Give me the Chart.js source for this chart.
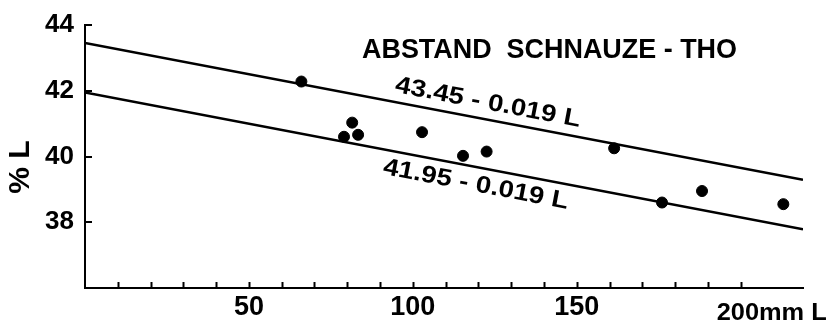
<!DOCTYPE html>
<html>
<head>
<meta charset="utf-8">
<script src="https://cdn.jsdelivr.net/npm/chart.js@4.4.1/dist/chart.umd.min.js"></script>
<style>
  html, body { margin: 0; padding: 0; background: #fff; }
  #wrap { width: 833px; height: 324px; }
</style>
</head>
<body>
<div id="wrap"><canvas id="chart" width="833" height="324"></canvas></div>
<script>
// measured points: body length L (mm) and distance snout-THO (% L)
const lengthMM = [66, 81.5, 79, 83.3, 102.8, 115.3, 122.5, 161.4, 176, 188.2, 213];
const percentL = [42.28, 41.03, 40.6, 40.66, 40.74, 40.02, 40.15, 40.25, 38.6, 38.95, 38.55];

// the two regression lines, given by their end points
const lineL = [0, 219];
const upperLine = [43.45, 39.29];
const lowerLine = [41.95, 37.79];

const yLabels = [38, 40, 42, 44];
const xLabels = [50, 100, 150];

const titleText = 'ABSTAND  SCHNAUZE - THO';
const upperText = '43.45 - 0.019 L';
const lowerText = '41.95 - 0.019 L';
const lastXLabel = '200mm L';

const FONT = '"Liberation Sans", Arial, sans-serif';

const toPoints = (xs, ys) => xs.map((x, i) => ({ x: x, y: ys[i] }));

// text squeezed / stretched to a given width
const fitText = (ctx, text, w) => {
  const s = w / ctx.measureText(text).width;
  ctx.scale(s, 1);
  ctx.fillText(text, 0, 0);
};

// draws the small inner ticks, the title and the two line labels
const annotations = {
  id: 'annotations',
  afterDraw(chart) {
    const { ctx, scales: { x, y } } = chart;
    ctx.save();
    ctx.strokeStyle = '#000';
    ctx.lineWidth = 2;

    // inner tick marks
    x.ticks.forEach(t => {
      if (t.value <= 0 || t.value % 10 !== 0) return;
      const px = Math.round(x.getPixelForValue(t.value)) + 0.5;
      ctx.beginPath();
      ctx.moveTo(px, y.bottom);
      ctx.lineTo(px, y.bottom - 6);
      ctx.stroke();
    });
    y.ticks.forEach(t => {
      if (t.value <= y.min) return;
      const py = Math.round(y.getPixelForValue(t.value));
      ctx.beginPath();
      ctx.moveTo(x.left, py);
      ctx.lineTo(x.left + 7, py);
      ctx.stroke();
    });

    ctx.fillStyle = '#000';

    // last x label with the unit
    ctx.font = 'bold 23px ' + FONT;
    ctx.textAlign = 'left';
    ctx.textBaseline = 'alphabetic';
    ctx.save();
    ctx.translate(x.getPixelForValue(200) - 24, 320);
    fitText(ctx, lastXLabel, 110);
    ctx.restore();

    // y axis title
    ctx.save();
    ctx.translate(21, 167);
    ctx.rotate(-Math.PI / 2);
    ctx.font = 'bold 30px ' + FONT;
    ctx.textAlign = 'center';
    ctx.textBaseline = 'middle';
    ctx.fillText('% L', 0, 0);
    ctx.restore();

    // title, squeezed to the width of the original lettering
    ctx.save();
    ctx.font = 'bold 28px ' + FONT;
    ctx.textAlign = 'left';
    ctx.translate(362, 58);
    fitText(ctx, titleText, 375);
    ctx.restore();

    // labels along the lines
    const angle = Math.atan2(
      y.getPixelForValue(upperLine[1]) - y.getPixelForValue(upperLine[0]),
      x.getPixelForValue(lineL[1]) - x.getPixelForValue(lineL[0]));
    const label = (text, lx, ly) => {
      ctx.save();
      ctx.translate(x.getPixelForValue(lx), y.getPixelForValue(ly));
      ctx.rotate(angle);
      ctx.font = 'bold 24px ' + FONT;
      ctx.textAlign = 'center';
      ctx.textBaseline = 'middle';
      fitText(ctx, text, 188);
      ctx.restore();
    };
    label(upperText, 122.9, 41.63);
    label(lowerText, 119.2, 39.14);

    ctx.restore();
  }
};

const config = {
  type: 'scatter',
  data: {
    datasets: [
      {
        data: toPoints(lengthMM, percentL),
        backgroundColor: '#000',
        borderColor: '#000',
        pointRadius: 5.5,
        pointHoverRadius: 5.5,
      },
      {
        data: toPoints(lineL, upperLine),
        showLine: true,
        borderColor: '#000',
        borderWidth: 2.5,
        pointRadius: 0,
      },
      {
        data: toPoints(lineL, lowerLine),
        showLine: true,
        borderColor: '#000',
        borderWidth: 2.5,
        pointRadius: 0,
      },
    ]
  },
  options: {
    responsive: false,
    animation: false,
    events: [],
    layout: { padding: { top: 25, right: 30, left: 0, bottom: 0 } },
    plugins: {
      legend: { display: false },
      tooltip: { enabled: false },
      title: { display: false },
    },
    scales: {
      x: {
        type: 'linear',
        min: 0,
        max: 219,
        grid: { display: false },
        border: { display: true, color: '#000', width: 2 },
        afterFit: scale => { scale.height = 36; },
        ticks: {
          stepSize: 10,
          autoSkip: false,
          maxRotation: 0,
          padding: -5,
          color: '#000',
          font: { family: FONT, size: 27, weight: 'bold' },
          callback: v => xLabels.includes(v) ? String(v) : '',
        }
      },
      y: {
        type: 'linear',
        min: 36,
        max: 44,
        grid: { display: false },
        border: { display: true, color: '#000', width: 2 },
        afterFit: scale => { scale.width = 85; },
        ticks: {
          stepSize: 1,
          padding: 3,
          color: '#000',
          font: { family: FONT, size: 26, weight: 'bold' },
          callback: v => yLabels.includes(v) ? String(v) : '',
        }
      }
    }
  },
  plugins: [annotations]
};

new Chart(document.getElementById('chart'), config);
</script>
</body>
</html>
